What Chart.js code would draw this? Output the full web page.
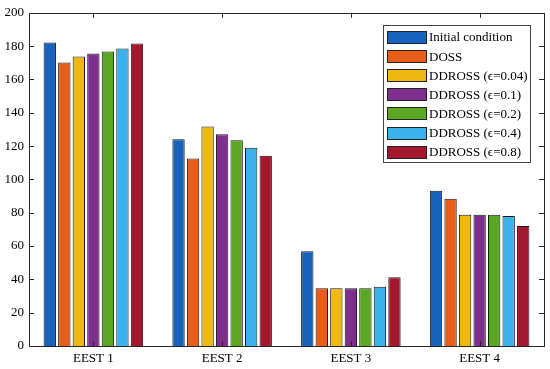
<!DOCTYPE html>
<html><head><meta charset="utf-8">
<script src="https://cdn.jsdelivr.net/npm/chart.js@4"></script>
<style>html,body{margin:0;padding:0;background:#fff}#wrap{width:550px;height:369px}</style>
</head><body><div id="wrap"><canvas id="c" width="550" height="369"></canvas></div>
<script>
const categories = ['EEST 1', 'EEST 2', 'EEST 3', 'EEST 4'];
const seriesNames = ['Initial condition', 'DOSS', 'DDROSS (ϵ=0.04)', 'DDROSS (ϵ=0.1)', 'DDROSS (ϵ=0.2)', 'DDROSS (ϵ=0.4)', 'DDROSS (ϵ=0.8)'];
const initialCondition = [182.2, 124.1, 56.9, 93.2];
const doss = [170.2, 112.6, 34.7, 88.4];
const ddross004 = [173.8, 131.7, 34.7, 78.8];
const ddross01 = [175.6, 127.1, 34.7, 78.8];
const ddross02 = [176.8, 123.5, 34.7, 78.8];
const ddross04 = [178.6, 119.0, 35.5, 78.0];
const ddross08 = [181.6, 114.2, 41.3, 72.0];
const yTickValues = [0, 20, 40, 60, 80, 100, 120, 140, 160, 180, 200];

const seriesValues = [initialCondition, doss, ddross004, ddross01, ddross02, ddross04, ddross08];
const colors = ['#1862bf', '#e85d17', '#efb712', '#7e2f8e', '#5ba623', '#3cb2ec', '#a3172f'];
const FONT = '"Liberation Serif", "DejaVu Serif", serif';
const AX = '#262626';

const boxPlugin = {
  id: 'boxPlugin',
  afterDatasetsDraw(chart) {
    const ctx = chart.ctx, a = chart.chartArea;
    const ys = chart.scales.y, xs = chart.scales.x;
    ctx.save();
    ctx.strokeStyle = AX; ctx.lineWidth = 1;
    ctx.strokeRect(Math.round(a.left) + 0.5, Math.round(a.top) + 0.5, Math.round(a.right - a.left), Math.round(a.bottom - a.top));
    ctx.beginPath();
    yTickValues.forEach(v => {
      const y = Math.round(ys.getPixelForValue(v)) + 0.5;
      ctx.moveTo(a.left, y); ctx.lineTo(a.left + 5, y);
      ctx.moveTo(a.right, y); ctx.lineTo(a.right - 5, y);
    });
    categories.forEach((c, i) => {
      const x = Math.round(xs.getPixelForValue(i)) + 0.5;
      ctx.moveTo(x, a.top); ctx.lineTo(x, a.top + 5);
      ctx.moveTo(x, a.bottom); ctx.lineTo(x, a.bottom - 5);
    });
    ctx.stroke();

    // legend
    const lx = 383, ly = 25, lw = 147, lh = 137;
    ctx.fillStyle = '#fff';
    ctx.fillRect(lx, ly, lw, lh);
    ctx.strokeStyle = '#444';
    ctx.strokeRect(lx + 0.5, ly + 0.5, lw, lh);
    ctx.font = '13px ' + FONT;
    ctx.textBaseline = 'middle';
    chart.data.datasets.forEach((ds, i) => {
      const cy = 37 + i * 19.1;
      ctx.fillStyle = ds.backgroundColor;
      ctx.fillRect(387, Math.round(cy - 6), 39, 12);
      ctx.strokeStyle = '#222';
      ctx.strokeRect(387.5, Math.round(cy - 6) + 0.5, 39, 12);
      ctx.fillStyle = '#000';
      ctx.fillText(ds.label, 429, cy + 1);
    });
    ctx.restore();
  }
};

new Chart(document.getElementById('c'), {
  type: 'bar',
  data: {
    labels: categories,
    datasets: seriesValues.map((vals, i) => ({
      label: seriesNames[i],
      data: vals,
      backgroundColor: colors[i],
      borderColor: '#1a1a1a',
      borderWidth: 1,
      categoryPercentage: 0.79,
      barPercentage: 0.85
    }))
  },
  options: {
    responsive: false,
    animation: false,
    devicePixelRatio: 1,
    layout: { padding: { top: 12, right: 6, left: 0, bottom: 0 } },
    plugins: { legend: { display: false }, tooltip: { enabled: false } },
    scales: {
      x: {
        grid: { display: false, drawTicks: false },
        border: { display: false },
        ticks: { color: '#000', font: { family: FONT, size: 13 }, padding: 5 },
        afterFit(s) { s.height = 23; }
      },
      y: {
        min: 0, max: 200,
        grid: { display: false, drawTicks: false },
        border: { display: false },
        ticks: { stepSize: 20, color: '#000', font: { family: FONT, size: 13 }, padding: 5 },
        afterFit(s) { s.width = 29; }
      }
    }
  },
  plugins: [boxPlugin]
});
</script></body></html>
